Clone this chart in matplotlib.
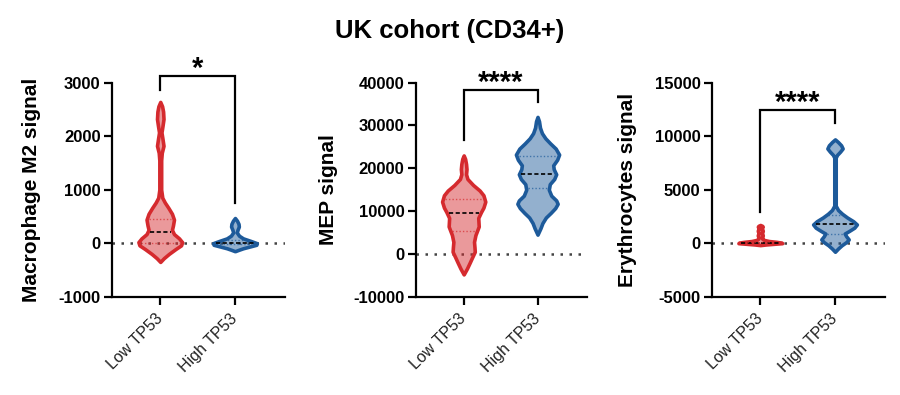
import numpy as np
import matplotlib
matplotlib.use("Agg")
import matplotlib.pyplot as plt
from matplotlib.colors import to_rgba

plt.rcParams['font.family'] = ['Liberation Sans', 'DejaVu Sans']

# ---------------- data ----------------
categories = ['Low TP53', 'High TP53']
title = 'UK cohort (CD34+)'
ylabels = ['Macrophage M2 signal', 'MEP signal', 'Erythrocytes signal']
yticks_m2 = [-1000, 0, 1000, 2000, 3000]
yticks_mep = [-10000, 0, 10000, 20000, 30000, 40000]
yticks_ery = [-5000, 0, 5000, 10000, 15000]
sig_labels = ['*', '****', '****']

# violin profiles: signal level and relative density (half width)
m2_low_y = [2640, 2560, 2460, 2320, 2190, 2070, 1950, 1820, 1690, 1550, 1000, 850, 760, 660,
            550, 440, 330, 250, 170, 90, 20, -40, -110, -200, -280, -350]
m2_low_w = [0, 1.8, 2.8, 3.2, 2.2, 1.2, 2.2, 3.2, 1.5, 0.9, 0.9, 2, 4.5, 8,
            11.5, 13.5, 12.5, 11.5, 13.5, 18.5, 21.5, 20.5, 15, 8.5, 3.5, 0]
m2_low_q = [10, 210, 460]          # Q1, median, Q3

m2_high_y = [470, 420, 360, 310, 250, 200, 140, 90, 45, 0, -30, -60, -95, -125, -150]
m2_high_w = [0, 2, 3.5, 3.8, 2.5, 1.8, 4, 8, 15, 21.5, 21, 15, 8, 3.5, 0]
m2_high_q = [-15, 5, 60]

mep_low_y = [23000, 22200, 21000, 19800, 18600, 17500, 16100, 14800, 13700, 12200, 10800,
             9800, 8400, 6400, 4400, 2800, 1500, 500, -800, -2000, -3400, -4800]
mep_low_w = [0, 1.5, 2.5, 3, 2.5, 4, 10, 17, 21, 23, 21,
             18.5, 15.5, 16, 12.5, 11, 11.5, 11.8, 9, 6.5, 3.5, 0]
mep_low_q = [5420, 9630, 12760]

mep_high_y = [32000, 31000, 29500, 28200, 27000, 25800, 24600, 23200, 22000, 20700, 19800,
              18600, 17500, 16300, 15000, 13600, 12500, 11700, 10700, 9600, 8500, 7200, 6000, 4500]
mep_high_w = [0, 1.5, 2.5, 4.5, 8, 13, 18.5, 22, 20, 16, 16.5,
              19, 17, 12.5, 11.5, 14, 19, 20.5, 18, 13.5, 8.5, 5, 3, 0]
mep_high_q = [15470, 18600, 22950]

ery_low_y = [1700, 1620, 1540, 1430, 1330, 1200, 1100, 990, 900, 780, 680, 560, 420,
             300, 200, 120, 50, 0, -60, -120, -180]
ery_low_w = [0, 2, 2.5, 1.8, 1.5, 2.5, 2.5, 1.6, 1.6, 2.5, 2.5, 1.6, 2,
             4, 9, 17, 22, 22.5, 14, 6, 0]
ery_low_q = [0, 40, 130]

ery_high_y = [9700, 9450, 9150, 8850, 8550, 8250, 8000, 3500, 3100, 2750, 2400, 2050, 1750,
              1450, 1150, 900, 650, 350, 100, -200, -500, -800]
ery_high_w = [0, 3, 6, 7.5, 5, 2, 0.7, 0.7, 3, 7, 12, 18, 21.5,
              19, 14, 9.5, 11, 13.5, 11, 6.5, 3, 0]
ery_high_q = [860, 1780, 2600]

# significance brackets: top, left leg end, right leg end
m2_bracket = [3120, 2870, 750]
mep_bracket = [38300, 26600, 35560]
ery_bracket = [12450, 2950, 11260]

# ---------------- style ----------------
RED = '#d52a2e'
BLUE = '#1d5a9a'
VW = 0.585

fig = plt.figure(figsize=(9, 3.95), dpi=100)

panels = [
    dict(rect=[0.1241, 0.2489, 0.1926, 0.5418], yticks=yticks_m2, label=ylabels[0], lab_x=-0.463,
         low=(m2_low_y, m2_low_w, m2_low_q), high=(m2_high_y, m2_high_w, m2_high_q),
         bracket=m2_bracket, sig=sig_labels[0]),
    dict(rect=[0.4619, 0.2489, 0.1903, 0.5418], yticks=yticks_mep, label=ylabels[1], lab_x=-0.512,
         low=(mep_low_y, mep_low_w, mep_low_q), high=(mep_high_y, mep_high_w, mep_high_q),
         bracket=mep_bracket, sig=sig_labels[1]),
    dict(rect=[0.7908, 0.2489, 0.1926, 0.5418], yticks=yticks_ery, label=ylabels[2], lab_x=-0.483,
         low=(ery_low_y, ery_low_w, ery_low_q), high=(ery_high_y, ery_high_w, ery_high_q),
         bracket=ery_bracket, sig=sig_labels[2]),
]


def draw_violin(ax, pos, ys, ws, q, edge):
    ys = np.asarray(ys, float)
    ws = np.asarray(ws, float)
    order = np.argsort(ys)
    ys_s, ws_s = ys[order], ws[order]
    stats = [dict(coords=ys_s, vals=ws_s, mean=q[1], median=q[1],
                  min=ys_s.min(), max=ys_s.max(), quantiles=[])]
    parts = ax.violin(stats, positions=[pos], widths=VW, showmeans=False,
                      showextrema=False, showmedians=False)
    for b in parts['bodies']:
        b.set_alpha(None)
        b.set_facecolor(to_rgba(edge, 0.48))
        b.set_edgecolor(to_rgba(edge, 1.0))
        b.set_linewidth(2.6)
        b.set_joinstyle('round')
        b.set_zorder(3)
    for i, v in enumerate(q):
        h = 0.5 * VW * np.interp(v, ys_s, ws_s) / ws_s.max() - 0.03
        if h <= 0:
            continue
        if i == 1:
            ax.plot([pos - h, pos + h], [v, v], color='black', ls=(0, (2.5, 1.5)),
                    lw=1.2, zorder=4)
        else:
            ax.plot([pos - h, pos + h], [v, v], color=edge, ls=(0, (1, 1.5)),
                    lw=1.0, alpha=0.7, zorder=4)


for p in panels:
    ax = fig.add_axes(p['rect'])
    yt = p['yticks']
    ax.set_ylim(yt[0], yt[-1])
    ax.set_xlim(-0.65, 1.67)
    ax.set_yticks(yt)
    ax.set_yticklabels([str(t) for t in yt], fontsize=12, fontweight='bold')
    ax.set_xticks([0, 1])
    ax.set_xticklabels(categories, rotation=45, ha='right', va='center',
                       rotation_mode='anchor', fontsize=11.5, color='#222222')
    for s in ['top', 'right']:
        ax.spines[s].set_visible(False)
    for s in ['left', 'bottom']:
        ax.spines[s].set_linewidth(1.6)
    ax.tick_params(axis='both', width=1.6, length=6, direction='out')
    ax.tick_params(axis='y', pad=2)
    ax.tick_params(axis='x', pad=8)

    ax.axhline(0, color='#444444', ls=(0, (1, 2.6)), lw=1.8, zorder=1)

    ly, lw_, lq = p['low']
    hy, hw_, hq = p['high']
    draw_violin(ax, 0, ly, lw_, lq, RED)
    draw_violin(ax, 1, hy, hw_, hq, BLUE)

    top, lend, rend = p['bracket']
    ax.plot([0, 0, 1, 1], [lend, top, top, rend], color='black', lw=1.6,
            solid_joinstyle='miter', clip_on=False, zorder=5)
    ax.annotate(p['sig'], xy=(0.5, top), xytext=(0, -0.8), textcoords='offset points',
                ha='center', va='baseline', fontsize=21, fontweight='bold',
                annotation_clip=False)

    ax.text(p['lab_x'], 0.5, p['label'], transform=ax.transAxes, rotation=90,
            ha='center', va='center', fontsize=15, fontweight='bold')

fig.text(0.5, 1 - 31 / 395, title, ha='center', va='center', fontsize=18.5,
         fontweight='bold')

fig.savefig('out.png', dpi=100)
